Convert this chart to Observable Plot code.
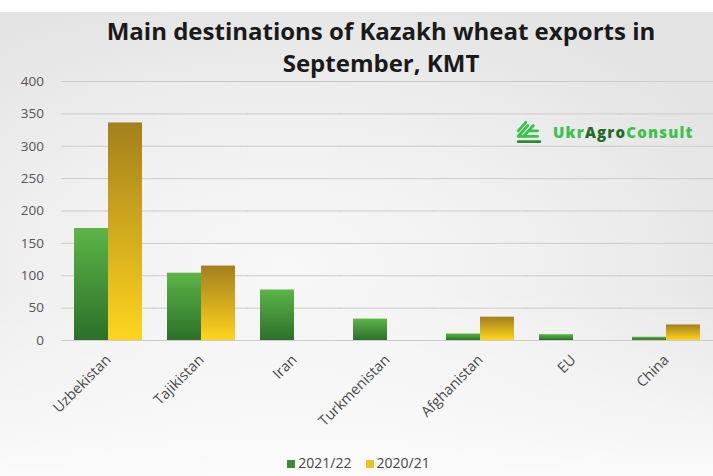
<!DOCTYPE html>
<html>
<head>
<meta charset="utf-8">
<script src="https://cdn.jsdelivr.net/npm/d3@7"></script>
<script src="https://cdn.jsdelivr.net/npm/@observablehq/plot@0.6"></script>
<style>
  html, body { margin: 0; padding: 0; background: #fff; }
  body { width: 713px; height: 476px; overflow: hidden; position: relative; font-family: "Open Sans", sans-serif; }
  #bg { position: absolute; left: 0; top: 12px; width: 713px; height: 464px;
        background: radial-gradient(ellipse 70% 60% at 40% 55%, #f8f8f8 0%, #efefef 55%, #e4e4e4 100%); }
  #bg2 { position: absolute; left: 0; top: 12px; width: 713px; height: 464px;
        background: linear-gradient(to bottom, rgba(255,255,255,0) 60%, rgba(255,255,255,0.85) 100%); }
  #title { position: absolute; left: 31px; width: 700px; top: 15px; text-align: center;
           font-weight: 700; font-size: 24px; line-height: 32px; color: #1a1a1a; }
  #chart { position: absolute; left: 0; top: 0; }
  #logo { position: absolute; left: 515px; top: 119px; display: flex; align-items: center;
          font-weight: 800; font-size: 15px; letter-spacing: 1.2px; }
  #legend { position: absolute; left: 0; width: 713px; top: 453px; display: flex; justify-content: center;
            gap: 14px; font-size: 14px; color: #444; padding-left: 4px; box-sizing: border-box; }
  .sw { display: inline-block; width: 8px; height: 8px; margin-right: 3px; vertical-align: 0px; }
</style>
</head>
<body>
<div id="bg"></div>
<div id="bg2"></div>
<div id="chart"></div>
<div id="title">Main destinations of Kazakh wheat exports in<br>September, KMT</div>
<div id="logo">
  <svg width="28" height="26" viewBox="0 0 26 24" style="margin-right:10px">
    <g stroke="#3cc24a" stroke-width="2.6" stroke-linecap="round">
      <line x1="3" y1="21" x2="23" y2="21" stroke="#2a8a30"/>
      <line x1="3" y1="16" x2="21" y2="16"/>
      <line x1="3" y1="16" x2="12" y2="6"/>
      <line x1="8" y1="16" x2="17" y2="6"/>
      <line x1="3" y1="11" x2="10" y2="3"/>
      <line x1="13" y1="11" x2="21" y2="11"/>
    </g>
  </svg>
  <span style="color:#3cc24a">Ukr</span><span style="color:#1f6e27">Agro</span><span style="color:#3cc24a">Consult</span>
</div>
<div id="legend">
  <span><span class="sw" style="background:#3c8a34"></span>2021/22</span>
  <span><span class="sw" style="background:#e9c423"></span>2020/21</span>
</div>
<script>
const countries = ["Uzbekistan", "Tajikistan", "Iran", "Turkmenistan", "Afghanistan", "EU", "China"];
const seriesNames = ["2021/22", "2020/21"];
const values2122 = [173, 104, 78, 33, 10, 9, 5];
const values2021 = [336, 115, 0, 0, 36, 0, 24];
const yTicks = [0, 50, 100, 150, 200, 250, 300, 350, 400];

const data = [];
countries.forEach((c, i) => {
  data.push({country: c, series: seriesNames[0], value: values2122[i]});
  data.push({country: c, series: seriesNames[1], value: values2021[i]});
});

const W = 713, ML = 60, MR = 0;
const padIn = 0.27, padOut = 0.135;
const step = (W - ML - MR) / (countries.length - padIn + 2 * padOut);
const gapHalf = step * padIn / 2; // half the gap between facets, bridged by the grid

const chart = Plot.plot({
  width: W,
  height: 440,
  marginTop: 81,
  marginBottom: 100,
  marginLeft: ML,
  marginRight: MR,
  style: {background: "transparent", fontFamily: "Open Sans, sans-serif"},
  fx: {domain: countries, paddingInner: padIn, paddingOuter: padOut, label: null},
  x: {domain: seriesNames, padding: 0, axis: null},
  y: {domain: [0, 400], ticks: yTicks, label: null},
  color: {domain: seriesNames, range: ["url(#gGreen)", "url(#gGold)"]},
  marks: [
    Plot.gridY(yTicks, {stroke: "#cbcbcb", strokeOpacity: 1, strokeWidth: 1, insetLeft: -gapHalf - 0.5, insetRight: -gapHalf - 0.5}),
    Plot.axisY(yTicks, {tickSize: 0, tickPadding: 18 + gapHalf, fontSize: 13.5, fill: "#555", label: null}),
    Plot.axisFx({anchor: "bottom", tickSize: 0, tickPadding: 17, tickRotate: -45, fontSize: 14.5, fill: "#4a4a4a", label: null}),
    Plot.barY(data, {fx: "country", x: "series", y: "value", fill: "series"})
  ]
});

const defs = d3.create("svg:defs");
const g1 = defs.append("linearGradient").attr("id", "gGreen").attr("x1", 0).attr("y1", 0).attr("x2", 0).attr("y2", 1);
g1.append("stop").attr("offset", "0%").attr("stop-color", "#5cb547");
g1.append("stop").attr("offset", "100%").attr("stop-color", "#2c702a");
const g2 = defs.append("linearGradient").attr("id", "gGold").attr("x1", 0).attr("y1", 0).attr("x2", 0).attr("y2", 1);
g2.append("stop").attr("offset", "0%").attr("stop-color", "#a3801c");
g2.append("stop").attr("offset", "100%").attr("stop-color", "#ffd41e");
chart.insertBefore(defs.node(), chart.firstChild);

document.getElementById("chart").appendChild(chart);
</script>
</body>
</html>
